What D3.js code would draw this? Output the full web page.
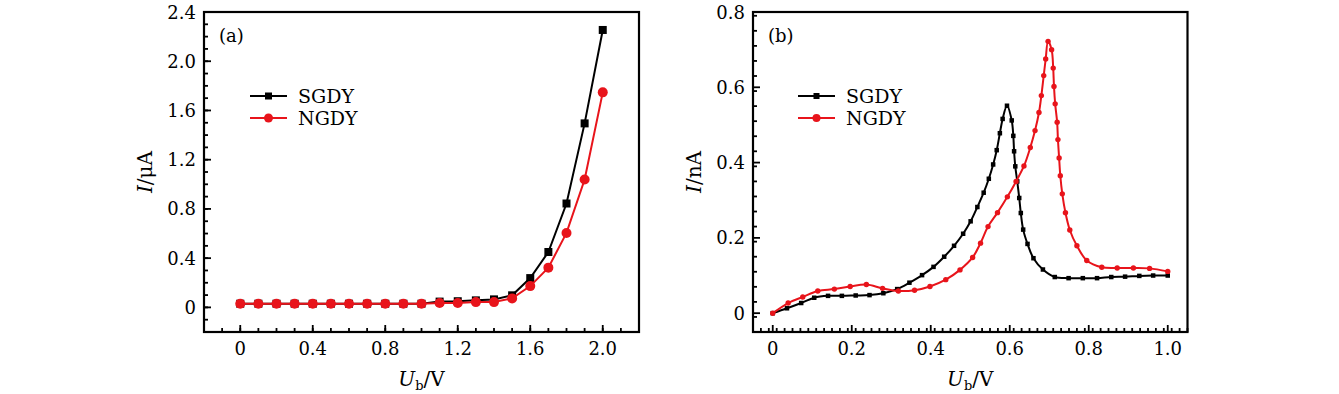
<!DOCTYPE html>
<html>
<head>
<meta charset="utf-8">
<script src="https://cdn.jsdelivr.net/npm/d3@7"></script>
<style>
  body { margin: 0; background: #fff; }
  text { font-family: "DejaVu Serif", "Liberation Serif", serif; fill: #000; }
</style>
</head>
<body>
<svg id="chart" width="1339" height="394"></svg>
<script>
// panel (a): I-V curve, step 0.1 V
const voltsA = [0, 0.1, 0.2, 0.3, 0.4, 0.5, 0.6, 0.7, 0.8, 0.9, 1.0,
                1.1, 1.2, 1.3, 1.4, 1.5, 1.6, 1.7, 1.8, 1.9, 2.0];
const sgdyA = [0.03, 0.03, 0.03, 0.03, 0.03, 0.03, 0.03, 0.03, 0.03, 0.03, 0.03,
               0.047, 0.05, 0.057, 0.065, 0.098, 0.238, 0.45, 0.844, 1.495, 2.254];
const ngdyA = [0.03, 0.03, 0.03, 0.03, 0.03, 0.03, 0.03, 0.03, 0.03, 0.03, 0.03,
               0.035, 0.035, 0.043, 0.043, 0.073, 0.173, 0.323, 0.605, 1.039, 1.747];

// panel (b): I-V curve near resonance
const sgdyBx = [0, 0.036, 0.072, 0.105, 0.14, 0.175, 0.21, 0.245, 0.28, 0.315, 0.346,
                0.378, 0.407, 0.434, 0.459, 0.482, 0.501, 0.518, 0.534, 0.547, 0.558,
                0.567, 0.575, 0.582, 0.593, 0.605, 0.609, 0.611, 0.614, 0.619, 0.624,
                0.628, 0.634, 0.645, 0.66, 0.684, 0.714, 0.749, 0.785, 0.821, 0.857,
                0.892, 0.928, 0.963, 1.0];
const sgdyBy = [0, 0.013, 0.027, 0.041, 0.046, 0.046, 0.047, 0.048, 0.053, 0.064, 0.081,
                0.101, 0.123, 0.15, 0.179, 0.211, 0.244, 0.282, 0.32, 0.357, 0.395,
                0.433, 0.478, 0.516, 0.551, 0.512, 0.471, 0.43, 0.39, 0.35, 0.306,
                0.266, 0.222, 0.184, 0.146, 0.116, 0.096, 0.093, 0.093, 0.093, 0.096,
                0.097, 0.099, 0.1, 0.1];
const ngdyBx = [0, 0.039, 0.076, 0.114, 0.156, 0.196, 0.237, 0.278, 0.318, 0.359, 0.398,
                0.438, 0.474, 0.506, 0.526, 0.545, 0.569, 0.594, 0.616, 0.636, 0.652,
                0.664, 0.674, 0.68, 0.686, 0.691, 0.697, 0.706, 0.71, 0.712, 0.715,
                0.72, 0.722, 0.725, 0.728, 0.733, 0.741, 0.752, 0.77, 0.795, 0.833,
                0.872, 0.913, 0.954, 1.0];
const ngdyBy = [0, 0.027, 0.043, 0.059, 0.064, 0.071, 0.076, 0.066, 0.059, 0.061, 0.071,
                0.089, 0.115, 0.148, 0.186, 0.23, 0.267, 0.309, 0.35, 0.391, 0.44,
                0.485, 0.533, 0.578, 0.631, 0.675, 0.722, 0.7, 0.651, 0.602, 0.556,
                0.507, 0.461, 0.412, 0.365, 0.317, 0.267, 0.221, 0.179, 0.14, 0.122,
                0.12, 0.12, 0.119, 0.111];

const ticksAx = [0, 0.4, 0.8, 1.2, 1.6, 2.0];
const ticksAy = [0, 0.4, 0.8, 1.2, 1.6, 2.0, 2.4];
const ticksBx = [0, 0.2, 0.4, 0.6, 0.8, 1.0];
const ticksBy = [0, 0.2, 0.4, 0.6, 0.8];
const seriesNames = ["SGDY", "NGDY"];
const seriesColors = ["#000000", "#e8141b"];

const svg = d3.select("#chart");

function fmt(v) { return v === 0 ? "0" : d3.format(".1f")(v); }

function drawPanel(p) {
  const g = svg.append("g");
  const x = d3.scaleLinear().domain(p.xDomain).range([p.left, p.right]);
  const y = d3.scaleLinear().domain(p.yDomain).range([p.bottom, p.top]);

  // minor ticks (inward)
  const minorX = d3.range(p.xDomain[0], p.xDomain[1] + 1e-9, p.xMinor);
  const minorY = d3.range(p.yDomain[0], p.yDomain[1] + 1e-9, p.yMinor);
  g.selectAll(".mx").data(minorX).join("line")
    .attr("x1", d => x(d)).attr("x2", d => x(d))
    .attr("y1", p.bottom).attr("y2", p.bottom - 4)
    .attr("stroke", "#000").attr("stroke-width", 1.8);
  g.selectAll(".my").data(minorY).join("line")
    .attr("y1", d => y(d)).attr("y2", d => y(d))
    .attr("x1", p.left).attr("x2", p.left + 4)
    .attr("stroke", "#000").attr("stroke-width", 1.8);
  g.selectAll(".Mx").data(p.xTicks).join("line")
    .attr("x1", d => x(d)).attr("x2", d => x(d))
    .attr("y1", p.bottom).attr("y2", p.bottom - 7)
    .attr("stroke", "#000").attr("stroke-width", 1.8);
  g.selectAll(".My").data(p.yTicks).join("line")
    .attr("y1", d => y(d)).attr("y2", d => y(d))
    .attr("x1", p.left).attr("x2", p.left + 7)
    .attr("stroke", "#000").attr("stroke-width", 1.8);

  // frame
  g.append("rect")
    .attr("x", p.left).attr("y", p.top)
    .attr("width", p.right - p.left).attr("height", p.bottom - p.top)
    .attr("fill", "none").attr("stroke", "#000").attr("stroke-width", 2.2);

  // tick labels
  g.selectAll(".lx").data(p.xTicks).join("text")
    .attr("x", d => x(d)).attr("y", p.bottom + 23)
    .attr("text-anchor", "middle").attr("font-size", 18)
    .text(fmt);
  g.selectAll(".ly").data(p.yTicks).join("text")
    .attr("x", p.left - 8).attr("y", d => y(d) + 6.5)
    .attr("text-anchor", "end").attr("font-size", 18)
    .text(fmt);

  // axis titles
  const xt = g.append("text")
    .attr("x", (p.left + p.right) / 2).attr("y", 386)
    .attr("text-anchor", "middle").attr("font-size", 20);
  xt.append("tspan").attr("font-style", "italic").text("U");
  xt.append("tspan").attr("font-size", 13).attr("dy", 4).text("b");
  xt.append("tspan").attr("dy", -4).text("/V");

  const yt = g.append("text")
    .attr("transform", `translate(${p.left - 52},${(p.top + p.bottom) / 2}) rotate(-90)`)
    .attr("text-anchor", "middle").attr("font-size", 20);
  yt.append("tspan").attr("font-style", "italic").text("I");
  yt.append("tspan").text("/" + p.yUnit);

  // panel letter
  g.append("text").attr("x", p.left + 15).attr("y", p.top + 30)
    .attr("font-size", 18).text(p.label);

  // series
  p.series.forEach((s, i) => {
    const pts = s.xs.map((v, k) => [v, s.ys[k]]);
    const line = d3.line().x(d => x(d[0])).y(d => y(d[1])).curve(p.curve);
    g.append("path").datum(pts)
      .attr("d", line).attr("fill", "none")
      .attr("stroke", seriesColors[i]).attr("stroke-width", p.lineW);
    if (i === 0) {
      g.selectAll(null).data(pts).join("rect")
        .attr("x", d => x(d[0]) - p.sq / 2).attr("y", d => y(d[1]) - p.sq / 2)
        .attr("width", p.sq).attr("height", p.sq).attr("fill", seriesColors[i]);
    } else {
      g.selectAll(null).data(pts).join("circle")
        .attr("cx", d => x(d[0])).attr("cy", d => y(d[1])).attr("r", p.rad)
        .attr("fill", seriesColors[i]);
    }
  });

  // legend
  seriesNames.forEach((name, i) => {
    const ly = p.legY + i * 22;
    g.append("line")
      .attr("x1", p.legX).attr("x2", p.legX + 37)
      .attr("y1", ly).attr("y2", ly)
      .attr("stroke", seriesColors[i]).attr("stroke-width", 2);
    if (i === 0) {
      g.append("rect").attr("x", p.legX + 18.5 - p.legSq / 2).attr("y", ly - p.legSq / 2)
        .attr("width", p.legSq).attr("height", p.legSq).attr("fill", seriesColors[i]);
    } else {
      g.append("circle").attr("cx", p.legX + 18.5).attr("cy", ly).attr("r", p.legR)
        .attr("fill", seriesColors[i]);
    }
    g.append("text").attr("x", p.legX + 48).attr("y", ly + 7)
      .attr("font-size", 19).text(name);
  });
}

drawPanel({
  left: 204, right: 639, top: 12, bottom: 332,
  xDomain: [-0.2, 2.2], yDomain: [-0.2, 2.4],
  xMinor: 0.1, yMinor: 0.1, xTicks: ticksAx, yTicks: ticksAy,
  yUnit: "μA", label: "(a)",
  series: [{ xs: voltsA, ys: sgdyA }, { xs: voltsA, ys: ngdyA }],
  curve: d3.curveLinear, lineW: 2, sq: 8, rad: 5,
  legX: 250, legY: 96, legSq: 7, legR: 4.5
});

drawPanel({
  left: 753, right: 1187.5, top: 12, bottom: 332,
  xDomain: [-0.05, 1.05], yDomain: [-0.05, 0.8],
  xMinor: 0.02, yMinor: 0.04, xTicks: ticksBx, yTicks: ticksBy,
  yUnit: "nA", label: "(b)",
  series: [{ xs: sgdyBx, ys: sgdyBy }, { xs: ngdyBx, ys: ngdyBy }],
  curve: d3.curveCatmullRom.alpha(0.5), lineW: 2, sq: 4.5, rad: 2.7,
  legX: 798, legY: 96, legSq: 6, legR: 4
});
</script>
</body>
</html>
